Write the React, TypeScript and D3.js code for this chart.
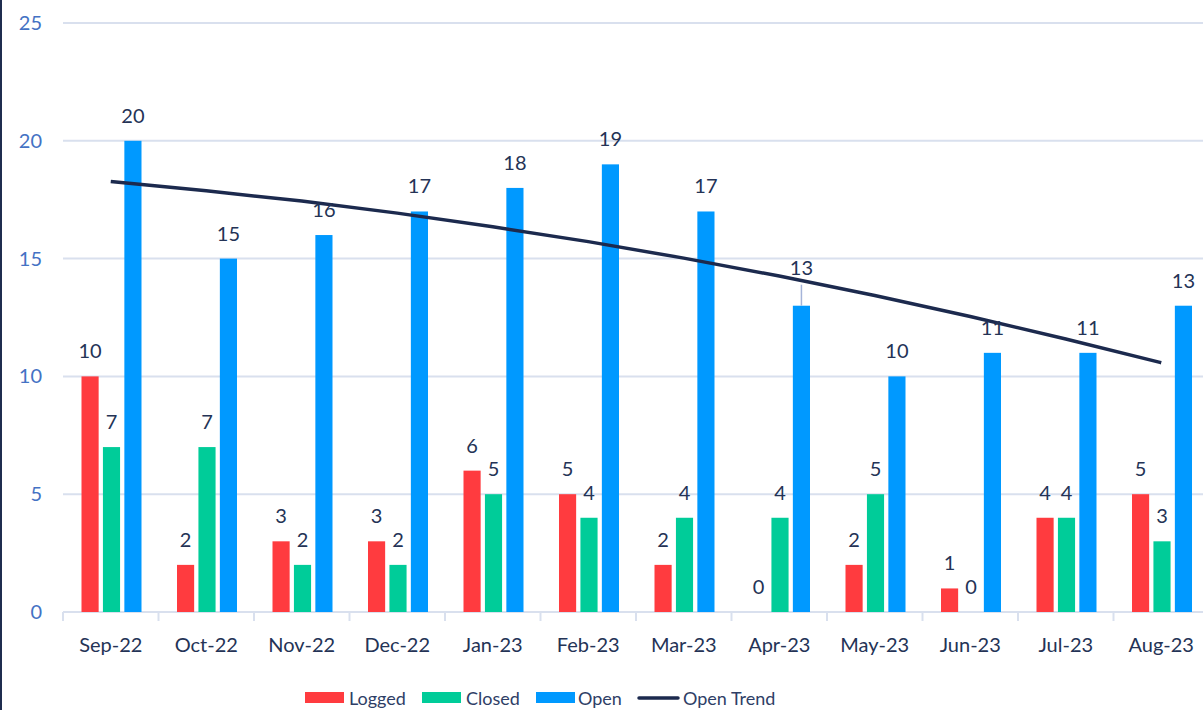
import React from "react";
import * as d3 from "d3";

const months = ["Sep-22","Oct-22","Nov-22","Dec-22","Jan-23","Feb-23","Mar-23","Apr-23","May-23","Jun-23","Jul-23","Aug-23"];
const logged = [10,2,3,3,6,5,2,0,2,1,4,5];
const closed = [7,7,2,2,5,4,4,4,5,0,4,3];
const open = [20,15,16,17,18,19,17,13,10,11,11,13];
const openTrend = [18.27,17.88,17.44,16.93,16.35,15.72,15.02,14.26,13.43,12.54,11.59,10.58];
const yTicks = [0,5,10,15,20,25];
const seriesNames = ["Logged","Closed","Open"];
const seriesColors = ["#FF3B3F","#00CC99","#0099FF"];
const trendColor = "#1C2A4E";

const W = 1203, H = 710;
const FONT = "Lato, 'Open Sans', sans-serif";
const labelColor = "#243356";

export default function App() {
  const x = d3.scaleBand<string>().domain(months).range([63, 63 + 12 * 95.5]).paddingInner(0).paddingOuter(0);
  const x1 = d3.scaleBand<string>().domain(seriesNames).range([18.5, 78.5]).paddingInner(0.2);
  const y = d3.scaleLinear().domain([0, 25]).range([612, 23]);
  const data = [logged, closed, open];
  const line = d3.line<number>()
    .x((_, i) => (x(months[i]) as number) + x.bandwidth() / 2)
    .y((d) => y(d))
    .curve(d3.curveMonotoneX);

  const legendItems = [
    { name: "Logged", kind: "rect", color: seriesColors[0], sx: 305, tx: 349 },
    { name: "Closed", kind: "rect", color: seriesColors[1], sx: 422, tx: 466 },
    { name: "Open", kind: "rect", color: seriesColors[2], sx: 536, tx: 578 },
    { name: "Open Trend", kind: "line", color: trendColor, sx: 639, tx: 683 },
  ];

  return (
    <svg width={W} height={H} style={{ position: "absolute", left: 0, top: 0, background: "#fff" }} fontFamily={FONT}>
      <rect x={0} y={0} width={2} height={H} fill="#1F2D4F" />
      {yTicks.map((t) => (
        <g key={t}>
          <line x1={63} x2={W} y1={y(t)} y2={y(t)} stroke="#D9E0EE" strokeWidth={2} />
          <text x={42} y={y(t)} dy="0.35em" textAnchor="end" fontSize={20} fill="#4472C4">{t}</text>
        </g>
      ))}
      {months.map((m, i) => (
        <line key={m} x1={x(m)} x2={x(m)} y1={612} y2={621} stroke="#D9E0EE" strokeWidth={2} />
      ))}
      {months.map((m) => (
        <text key={m} x={(x(m) as number) + x.bandwidth() / 2} y={652} textAnchor="middle" fontSize={20} fill={labelColor}>{m}</text>
      ))}
      {data.map((arr, s) =>
        arr.map((v, i) => {
          const bx = (x(months[i]) as number) + (x1(seriesNames[s]) as number);
          return (
            <rect key={s + "-" + i} x={bx} y={y(v)} width={x1.bandwidth()} height={612 - y(v)} fill={seriesColors[s]} />
          );
        })
      )}
      <path d={line(openTrend) || ""} fill="none" stroke={trendColor} strokeWidth={3.5} />
      {data.map((arr, s) =>
        arr.map((v, i) => {
          const cx = (x(months[i]) as number) + (x1(seriesNames[s]) as number) + x1.bandwidth() / 2;
          const moved = s === 2 && months[i] === "Apr-23";
          const ly = y(v) - 18 - (moved ? 13 : 0);
          return (
            <g key={"l" + s + "-" + i}>
              {moved && <line x1={cx} x2={cx} y1={ly + 10} y2={y(v)} stroke="#A5B4D9" strokeWidth={1.5} />}
              <text x={cx} y={ly} textAnchor="middle" fontSize={20} fill={labelColor}>{v}</text>
            </g>
          );
        })
      )}
      {legendItems.map((it) => (
        <g key={it.name}>
          {it.kind === "rect" ? (
            <rect x={it.sx} y={692} width={39} height={11} fill={it.color} />
          ) : (
            <line x1={it.sx} x2={it.sx + 39} y1={698} y2={698} stroke={it.color} strokeWidth={3.5} strokeLinecap="round" />
          )}
          <text x={it.tx} y={705} fontSize={18} fill="#2E3E66">{it.name}</text>
        </g>
      ))}
    </svg>
  );
}
